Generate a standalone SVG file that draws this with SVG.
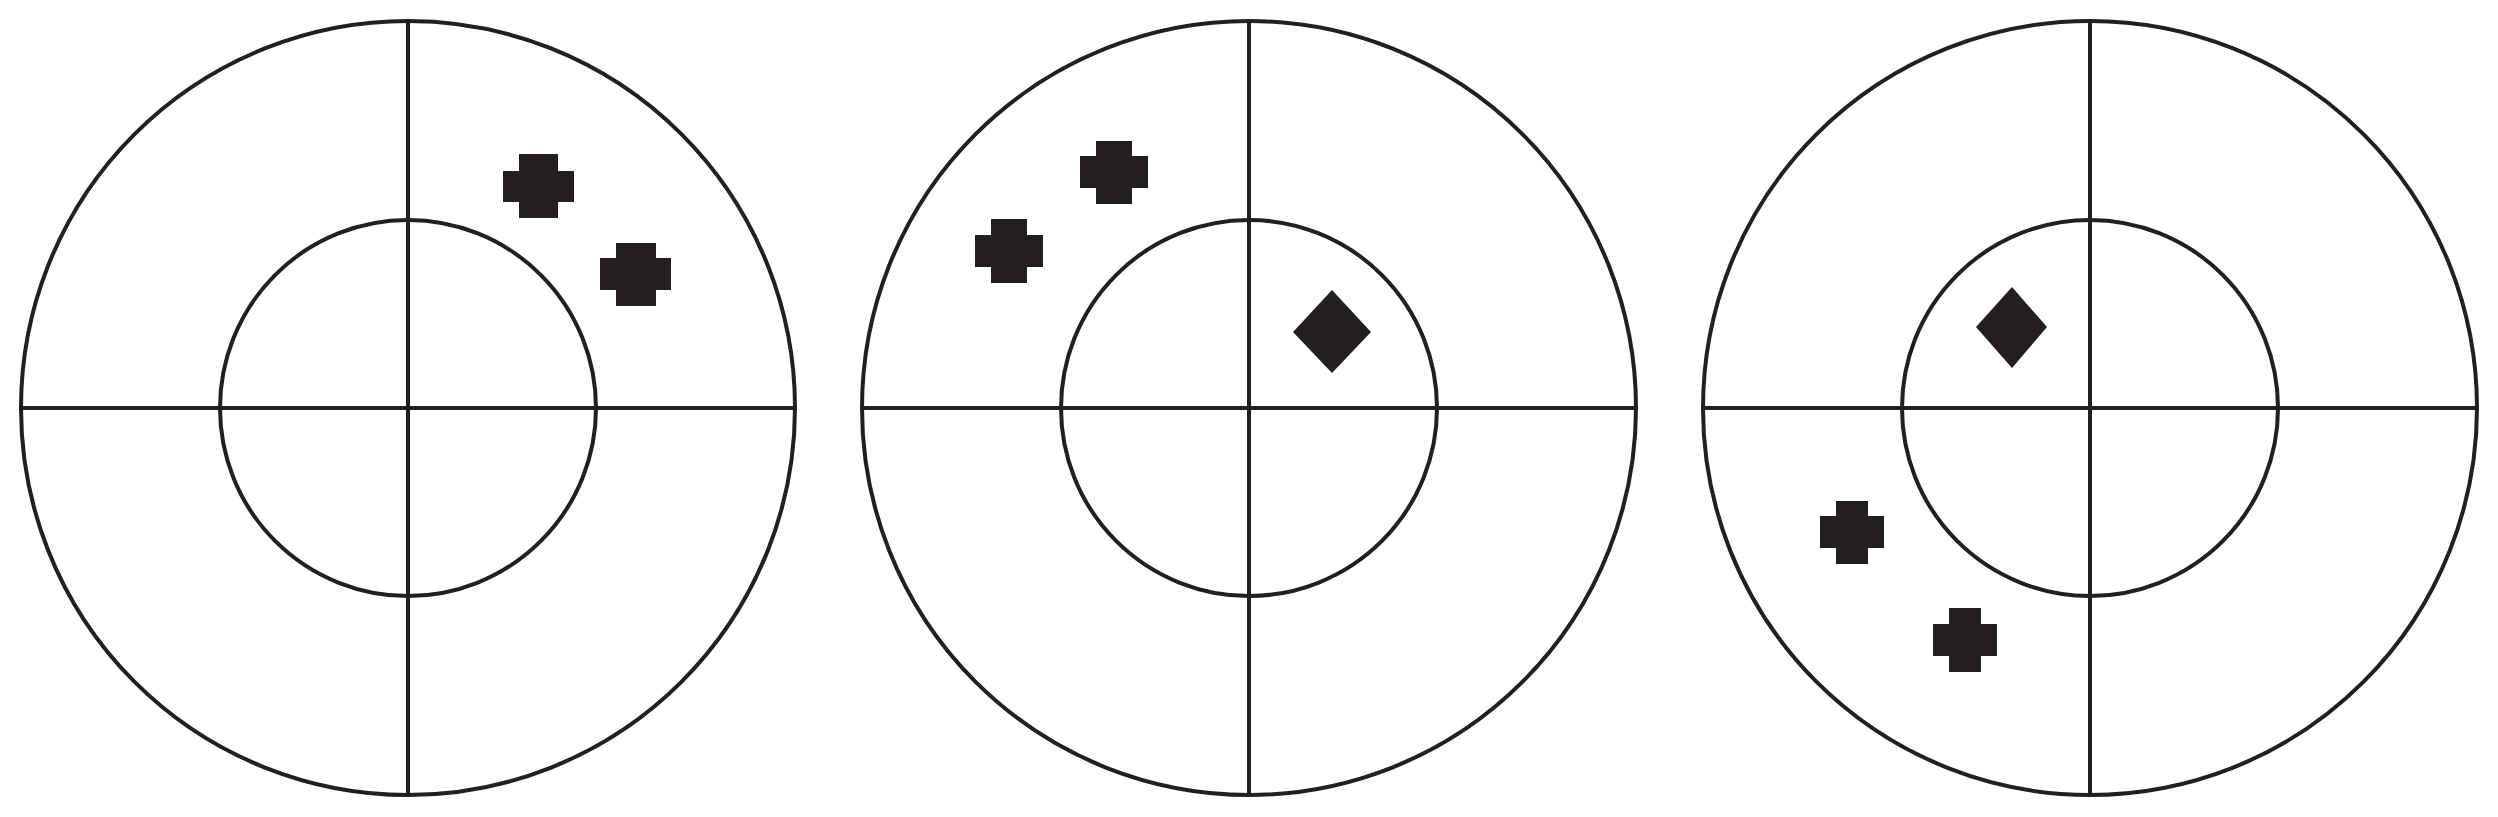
<svg xmlns="http://www.w3.org/2000/svg" width="2498" height="817" viewBox="0 0 2498 817">
<style>
.ring{fill:none;stroke:#231f20;stroke-width:4}
.ax{stroke:#231f20;stroke-width:4}
.mark{fill:#231f20}
</style>
<rect width="2498" height="817" fill="#fff"/>
<g id="target1">
<circle class="ring" cx="408" cy="408" r="387"/>
<circle class="ring" cx="408" cy="408" r="188"/>
<line class="ax" x1="408" y1="21" x2="408" y2="795"/>
<line class="ax" x1="21" y1="408" x2="795" y2="408"/>
<path class="mark" d="M519,154H558V171H574V202H558V218H519V202H503V171H519Z"/>
<path class="mark" d="M616,243H656V258H671V290H656V306H616V290H600V258H616Z"/>
</g>
<g id="target2">
<circle class="ring" cx="1249" cy="408" r="387"/>
<circle class="ring" cx="1249" cy="408" r="188"/>
<line class="ax" x1="1249" y1="21" x2="1249" y2="795"/>
<line class="ax" x1="862" y1="408" x2="1636" y2="408"/>
<path class="mark" d="M991,219H1027V235H1043V267H1027V283H991V267H975V235H991Z"/>
<path class="mark" d="M1096,141H1132V156H1148V188H1132V204H1096V188H1080V156H1096Z"/>
<path class="mark" d="M1332,290L1371,332L1332,373L1293,332Z"/>
</g>
<g id="target3">
<circle class="ring" cx="2090" cy="408" r="387"/>
<circle class="ring" cx="2090" cy="408" r="188"/>
<line class="ax" x1="2090" y1="21" x2="2090" y2="795"/>
<line class="ax" x1="1703" y1="408" x2="2477" y2="408"/>
<path class="mark" d="M2012,287L2047,327L2012,368L1976,327Z"/>
<path class="mark" d="M1836,501H1868V516H1884V548H1868V564H1836V548H1820V516H1836Z"/>
<path class="mark" d="M1949,608H1981V624H1997V656H1981V672H1949V656H1933V624H1949Z"/>
</g>
<g id="connectors"/>
</svg>
